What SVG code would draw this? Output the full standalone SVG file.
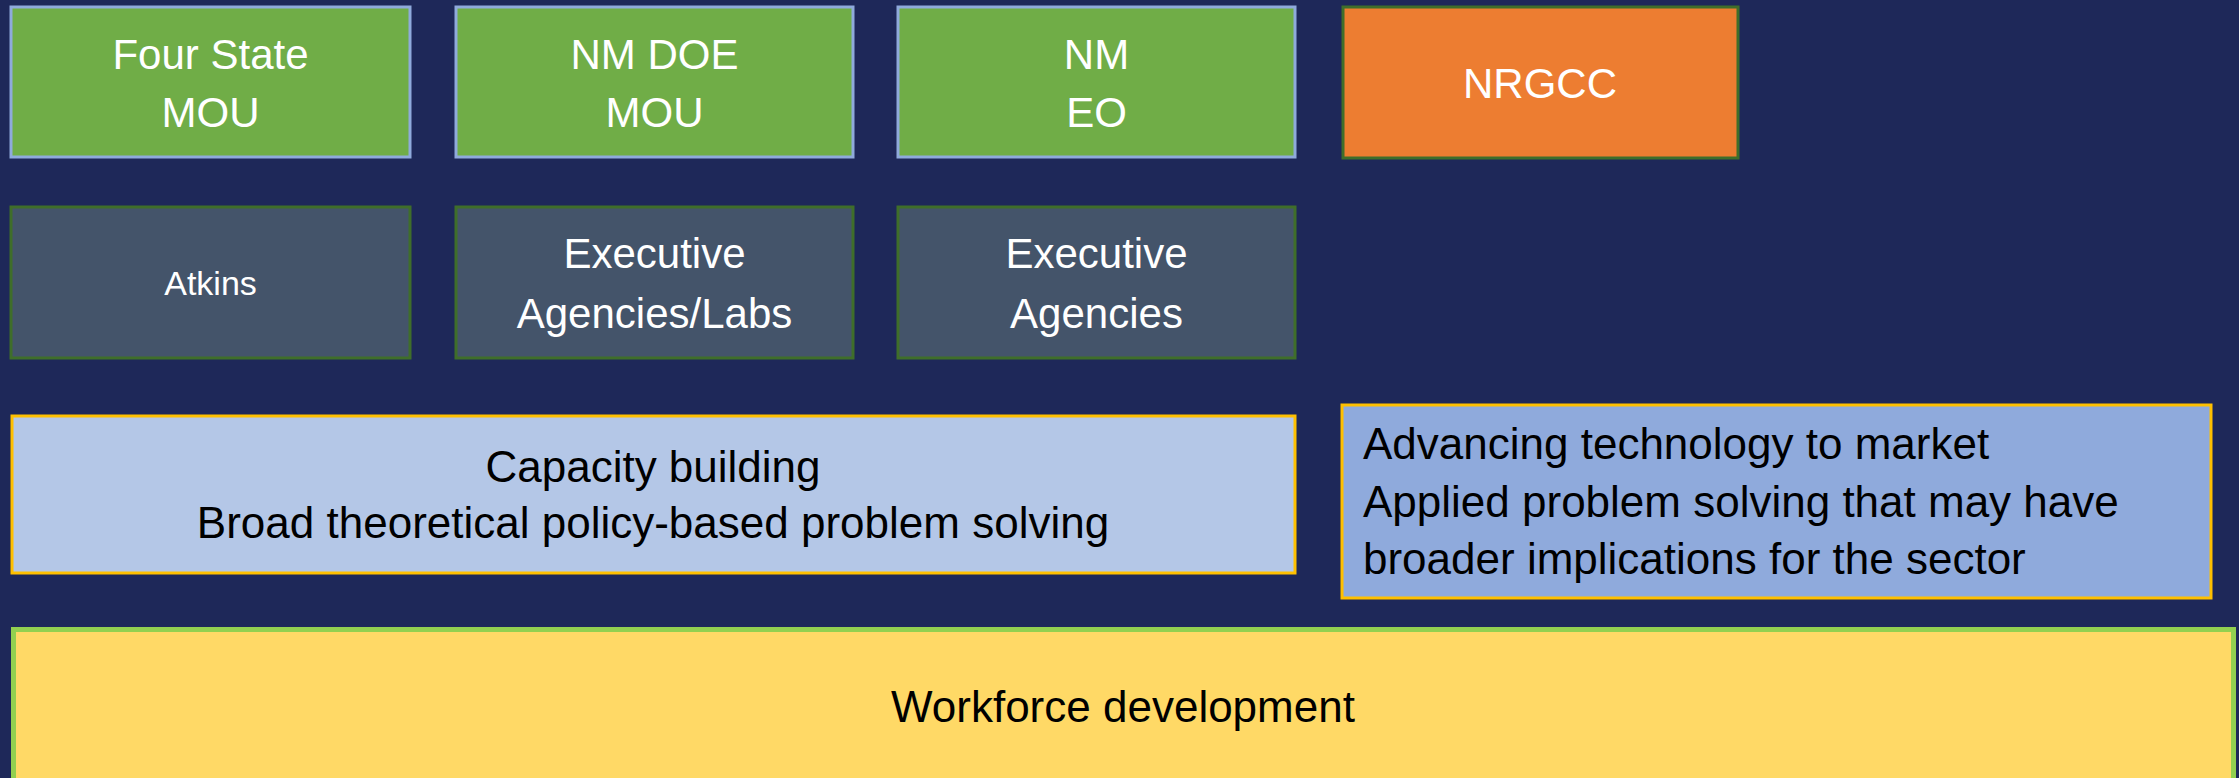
<svg xmlns="http://www.w3.org/2000/svg" width="2239" height="778" viewBox="0 0 2239 778">
<style>
text{font-family:"Liberation Sans",Arial,sans-serif}
.w{fill:#fff;font-size:42px;text-anchor:middle}
.b{fill:#000;font-size:44px}
.c{text-anchor:middle}
.g{fill:#70AD47;stroke:#8FAADC;stroke-width:3}
.d{fill:#44546A;stroke:#3F6E2A;stroke-width:3}
</style>
<rect width="2239" height="778" fill="#1E2859"/>
<g id="four-state-mou"><rect class="g" x="11" y="7" width="399" height="150"/><text class="w" x="210.5" y="69">Four State</text><text class="w" x="210.5" y="127">MOU</text></g>
<g id="nm-doe-mou"><rect class="g" x="456" y="7" width="397" height="150"/><text class="w" x="654.5" y="69">NM DOE</text><text class="w" x="654.5" y="127">MOU</text></g>
<g id="nm-eo"><rect class="g" x="898" y="7" width="397" height="150"/><text class="w" x="1096.5" y="69">NM</text><text class="w" x="1096.5" y="127">EO</text></g>
<g id="nrgcc"><rect x="1343" y="7" width="395" height="151" fill="#ED7D31" stroke="#3F6E2A" stroke-width="3"/><text class="w" x="1540" y="98">NRGCC</text></g>
<g id="atkins"><rect class="d" x="11" y="207" width="399" height="151"/><text class="w" x="210.5" y="295" style="font-size:34px">Atkins</text></g>
<g id="exec-labs"><rect class="d" x="456" y="207" width="397" height="151"/><text class="w" x="654.5" y="268">Executive</text><text class="w" x="654.5" y="328">Agencies/Labs</text></g>
<g id="exec-agencies"><rect class="d" x="898" y="207" width="397" height="151"/><text class="w" x="1096.5" y="268">Executive</text><text class="w" x="1096.5" y="328">Agencies</text></g>
<g id="capacity"><rect x="12" y="416" width="1283" height="157" fill="#B4C7E7" stroke="#FFC000" stroke-width="3"/><text class="b c" x="653" y="482">Capacity building</text><text class="b c" x="653" y="538">Broad theoretical policy-based problem solving</text></g>
<g id="applied"><rect x="1342" y="405" width="869" height="193" fill="#8FAADC" stroke="#FFC000" stroke-width="3"/><text class="b" x="1363" y="459">Advancing technology to market</text><text class="b" x="1363" y="517">Applied problem solving that may have</text><text class="b" x="1363" y="574">broader implications for the sector</text></g>
<g id="workforce"><rect x="13.5" y="629.5" width="2220" height="160" fill="#FFD966" stroke="#92D050" stroke-width="5"/><text class="b c" x="1123" y="722">Workforce development</text></g>
<g id="connectors"></g>
</svg>
